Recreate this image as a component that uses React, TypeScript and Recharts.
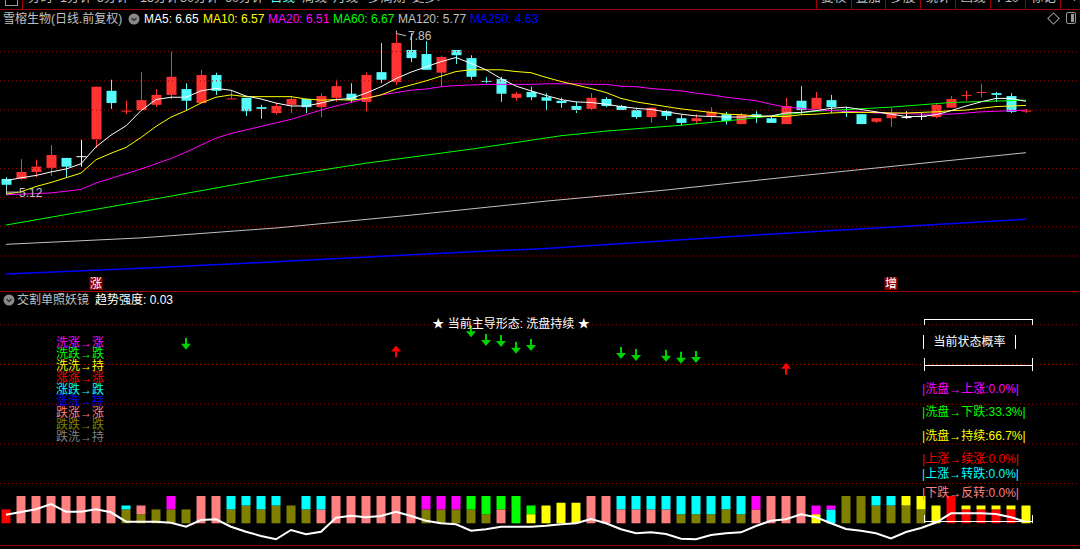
import React from "react";
import { ComposedChart, Bar, Line, Scatter, XAxis, YAxis, ReferenceLine, Cell } from "recharts";

// ---------- main panel: daily bars (前复权) ----------
const opens = [5.32, 5.32, 5.44, 5.51, 5.68, 5.71, 6.0, 6.83, 6.48, 6.5, 6.59, 6.76, 6.86, 6.62, 7.1, 6.69, 6.71, 6.55, 6.45, 6.59, 6.69, 6.55, 6.71, 6.78, 6.64, 7.15, 6.98, 7.53, 7.46, 7.14, 7.53, 7.39, 7.0, 7.03, 6.71, 6.81, 6.72, 6.66, 6.57, 6.52, 6.69, 6.57, 6.5, 6.38, 6.48, 6.36, 6.31, 6.4, 6.43, 6.26, 6.43, 6.36, 6.26, 6.66, 6.52, 6.67, 6.48, 6.43, 6.3, 6.36, 6.38, 6.4, 6.38, 6.54, 6.75, 6.8, 6.79, 6.74, 6.48];
const highs = [5.35, 5.66, 5.65, 5.9, 5.68, 5.99, 6.9, 7.02, 6.66, 7.15, 6.86, 7.5, 6.96, 7.19, 7.14, 6.83, 6.71, 6.59, 6.62, 6.74, 6.69, 6.79, 7.02, 6.96, 7.15, 7.65, 7.86, 7.82, 7.68, 7.43, 7.53, 7.44, 7.07, 7.07, 6.81, 6.9, 6.79, 6.71, 6.64, 6.79, 6.72, 6.59, 6.54, 6.55, 6.5, 6.42, 6.43, 6.55, 6.47, 6.45, 6.48, 6.38, 6.71, 6.91, 6.81, 6.76, 6.55, 6.43, 6.36, 6.54, 6.48, 6.45, 6.6, 6.74, 6.83, 6.95, 6.81, 6.79, 6.52];
const lows = [5.12, 5.3, 5.35, 5.37, 5.35, 5.53, 5.85, 6.52, 6.43, 6.5, 6.55, 6.69, 6.5, 6.62, 6.76, 6.69, 6.4, 6.35, 6.42, 6.45, 6.45, 6.38, 6.64, 6.62, 6.48, 6.96, 6.93, 7.32, 7.19, 6.9, 7.29, 7.02, 6.96, 6.64, 6.66, 6.67, 6.5, 6.54, 6.45, 6.5, 6.55, 6.5, 6.35, 6.28, 6.33, 6.23, 6.26, 6.31, 6.25, 6.26, 6.28, 6.28, 6.26, 6.43, 6.52, 6.45, 6.38, 6.26, 6.28, 6.21, 6.35, 6.33, 6.36, 6.54, 6.66, 6.72, 6.64, 6.45, 6.45];
const closes = [5.22, 5.44, 5.53, 5.73, 5.53, 5.71, 6.9, 6.62, 6.49, 6.67, 6.76, 7.07, 6.66, 7.1, 6.83, 6.7, 6.48, 6.52, 6.57, 6.69, 6.55, 6.74, 6.91, 6.67, 7.1, 7.02, 7.65, 7.39, 7.19, 7.41, 7.44, 7.07, 6.99, 6.78, 6.78, 6.72, 6.66, 6.62, 6.5, 6.71, 6.57, 6.5, 6.38, 6.54, 6.4, 6.28, 6.36, 6.47, 6.31, 6.42, 6.38, 6.28, 6.57, 6.5, 6.71, 6.55, 6.45, 6.26, 6.36, 6.45, 6.38, 6.4, 6.59, 6.69, 6.76, 6.81, 6.76, 6.47, 6.49];

const ma5 = [5.29, 5.34, 5.38, 5.44, 5.49, 5.58, 5.87, 6.07, 6.23, 6.49, 6.68, 6.72, 6.72, 6.83, 6.87, 6.84, 6.74, 6.69, 6.62, 6.57, 6.57, 6.62, 6.68, 6.7, 6.79, 6.9, 7.04, 7.15, 7.24, 7.33, 7.4, 7.3, 7.19, 7.04, 6.91, 6.83, 6.75, 6.68, 6.64, 6.63, 6.6, 6.56, 6.53, 6.51, 6.47, 6.43, 6.4, 6.39, 6.38, 6.38, 6.39, 6.4, 6.45, 6.46, 6.49, 6.53, 6.55, 6.51, 6.47, 6.43, 6.39, 6.39, 6.42, 6.49, 6.57, 6.64, 6.7, 6.7, 6.65];
const ma10 = [5.06, 5.1, 5.19, 5.26, 5.34, 5.42, 5.65, 5.76, 5.86, 6.03, 6.22, 6.38, 6.49, 6.62, 6.72, 6.76, 6.73, 6.73, 6.73, 6.73, 6.69, 6.67, 6.68, 6.67, 6.7, 6.76, 6.86, 6.93, 7.0, 7.08, 7.16, 7.19, 7.19, 7.19, 7.16, 7.14, 7.06, 6.99, 6.93, 6.87, 6.8, 6.7, 6.64, 6.6, 6.56, 6.52, 6.49, 6.46, 6.43, 6.42, 6.4, 6.39, 6.39, 6.42, 6.43, 6.45, 6.46, 6.46, 6.46, 6.45, 6.45, 6.46, 6.47, 6.49, 6.5, 6.53, 6.56, 6.57, 6.58];
const ma20 = [5.05, 5.06, 5.07, 5.08, 5.11, 5.14, 5.25, 5.33, 5.41, 5.49, 5.58, 5.67, 5.78, 5.9, 6.02, 6.1, 6.16, 6.22, 6.28, 6.34, 6.42, 6.5, 6.57, 6.63, 6.7, 6.76, 6.8, 6.84, 6.86, 6.9, 6.92, 6.93, 6.94, 6.94, 6.94, 6.94, 6.95, 6.95, 6.95, 6.94, 6.94, 6.91, 6.9, 6.87, 6.85, 6.83, 6.79, 6.76, 6.72, 6.69, 6.66, 6.6, 6.55, 6.53, 6.5, 6.49, 6.48, 6.47, 6.45, 6.45, 6.44, 6.43, 6.43, 6.43, 6.45, 6.47, 6.48, 6.49, 6.5];

const ma60Bars = [1, 11, 19, 25, 32, 38, 41, 46, 50, 55, 60, 64, 69];
const ma60Vals = [4.53, 4.98, 5.35, 5.59, 5.83, 6.06, 6.14, 6.24, 6.34, 6.48, 6.55, 6.63, 6.67];
const ma120Bars = [1, 10, 19, 28, 37, 45, 53, 61, 69];
const ma120Vals = [4.2, 4.31, 4.48, 4.7, 4.94, 5.13, 5.35, 5.56, 5.77];
const ma250Bars = [1, 10, 19, 28, 37, 45, 53, 61, 69];
const ma250Vals = [3.69, 3.79, 3.9, 4.02, 4.13, 4.26, 4.39, 4.51, 4.63];

const priceGrid = [4, 4.5, 5, 5.5, 6, 6.5, 7, 7.5];

const maNames = ["MA5", "MA10", "MA20", "MA60", "MA120", "MA250"];
const maLast = ["6.65", "6.57", "6.51", "6.67", "5.77", "4.63"];
const maColors = ["#ffffff", "#ffff00", "#ff00ff", "#00ff00", "#c0c0c0", "#0000ff"];

const flagBars = [7, 60];
const flagTexts = ["涨", "增"];

// ---------- lower panel: 交割单照妖镜 ----------
const strength = [2.17, 2.85, 3.53, 4.86, 2.92, 2.92, 3.53, 2.77, 0.4, 0.4, 0.4, 0.15, -0.86, 0.83, 1.01, -0.86, -2.12, -3.2, -4.03, -1.69, -2.77, -2.12, 1.41, 1.91, 1.51, 1.84, 2.92, 1.84, 0.65, 0, -0.25, -1.86, -1.51, -0.86, -0.86, -0.86, -0.6, -0.25, 0, 1.08, 0, -1.51, -2.52, -2.27, -2.7, -3.88, -4.03, -2.95, -2.52, -2.27, -0.68, 0.65, 1.01, 2.27, 1.51, 0, -1.44, -1.86, -2.52, -3.83, -2.19, -1.18, 0.2, 2.52, 2.52, 2.52, 2.34, 1.51, 0.4];

const baseTop = [3.5, 6.9, 6.9, 6.9, 6.9, 6.9, 6.9, 6.9, 3.5, 2.3, 3.5, 3.5, 3.5, 6.9, 6.9, 3.5, 4.5, 3.5, 4.5, 4.5, 3.5, 3.5, 6.9, 6.9, 6.9, 6.9, 6.9, 6.9, 3.5, 3.5, 3.5, 3.5, 2.3, 3.5, 6.9, 2.3, 4.5, 5.2, 5.2, 6.9, 6.9, 3.5, 3.5, 3.5, 3.5, 2.3, 2.3, 2.3, 3.5, 2.3, 3.5, 6.9, 6.9, 6.9, 2.3, 3.5, 6.9, 6.9, 4.5, 4.5, 4.5, 3.5, 4.5, 6.9, 3.5, 3.5, 3.5, 3.5, 4.5];
const baseKind = ["R", "P", "P", "P", "P", "P", "P", "P", "O", "O", "O", "O", "O", "P", "P", "O", "O", "O", "O", "O", "O", "P", "P", "P", "P", "P", "P", "P", "O", "O", "O", "O", "O", "P", "G", "Y", "Y", "Y", "Y", "P", "P", "P", "P", "P", "P", "O", "O", "O", "O", "O", "P", "P", "P", "P", "Y", "C", "O", "O", "O", "O", "O", "O", "Y", "R", "R", "R", "R", "R", "Y"];
const capTop = [0, 0, 0, 0, 0, 0, 0, 0, 4.5, 4.5, 0, 6.9, 0, 0, 0, 6.9, 6.9, 6.9, 6.9, 0, 6.9, 6.9, 0, 0, 0, 0, 0, 0, 6.9, 6.9, 6.9, 6.9, 6.9, 6.9, 0, 4.5, 0, 0, 0, 0, 0, 6.9, 6.9, 6.9, 6.9, 6.9, 6.9, 6.9, 6.9, 6.9, 6.9, 0, 0, 0, 4.5, 4.5, 0, 0, 6.9, 6.9, 6.9, 6.9, 0, 0, 4.5, 4.5, 4.5, 4.5, 0];
const capKind = ["-", "-", "-", "-", "-", "-", "-", "-", "C", "P", "-", "M", "-", "-", "-", "C", "C", "C", "C", "-", "C", "C", "-", "-", "-", "-", "-", "-", "M", "M", "M", "G", "G", "G", "-", "G", "-", "-", "-", "-", "-", "C", "C", "C", "C", "C", "C", "C", "C", "C", "M", "-", "-", "-", "M", "M", "-", "-", "C", "C", "Y", "Y", "-", "-", "Y", "Y", "Y", "Y", "-"];

const downBars = [13, 32, 33, 34, 35, 36, 42, 43, 45, 46, 47];
const downVals = [45.2, 48.4, 46.2, 45.9, 44.2, 44.9, 42.9, 42.4, 42.2, 41.7, 41.9];
const upBars = [27, 53];
const upVals = [43.3, 38.9];
const lowerGrid = [10, 20, 30, 40, 50];

const legendLabels = ["洗涨→涨", "洗跌→跌", "洗洗→持", "涨涨→涨", "涨跌→跌", "涨洗→持", "跌涨→涨", "跌跌→跌", "跌洗→持"];
const legendKinds = ["M", "G", "Y", "R", "C", "B", "P", "O", "D"];

const probLabels = ["洗盘→上涨", "洗盘→下跌", "洗盘→持续", "上涨→续涨", "上涨→转跌", "下跌→反转"];
const probValues = ["0.0%", "33.3%", "66.7%", "0.0%", "0.0%", "0.0%"];
const probKinds = ["M", "G", "Y", "R", "C", "P"];

const toolLeft = ["分时", "1分钟", "5分钟", "15分钟", "30分钟", "60分钟", "日线", "周线", "月线", "多周期", "更多>"];
const toolRight = ["复权", "叠加", "多股", "统计", "画线", "F10", "标记", "+自"];

const KIND: Record<string, string> = {
  R: "#ff0000", P: "#ff8080", O: "#808000", C: "#00ffff", M: "#ff00ff",
  G: "#00ff00", Y: "#ffff00", B: "#0000ff", D: "#808080",
};

// ---------- layout ----------
const FONT = '"Liberation Sans", "Noto Sans CJK SC", sans-serif';
const GRID = "#a00000";
const UP = "#ff3232";
const DOWN = "#54fcfc";
const X_DOMAIN: [number, number] = [1 - 6 / 15, 1 - 6 / 15 + 1080 / 15];
// price 7.5 sits at y=51.7, 58.37 px per yuan; plot spans y 24..290
const PRICE_DOMAIN: [number, number] = [7.5 - (290 - 51.7) / 58.37, 7.5 + (51.7 - 24) / 58.37];
// lower value 0 at y=523.3, 3.97 px per unit; plot spans y 305.3..545
const LOWER_DOMAIN: [number, number] = [(523.3 - 545) / 3.97, (523.3 - 305.3) / 3.97];

const pick = (bars: number[], vals: number[], idx: number) => {
  const k = bars.indexOf(idx);
  return k >= 0 ? vals[k] : null;
};

const mainData = opens.map((o, i) => ({
  idx: i + 1,
  open: o,
  high: highs[i],
  low: lows[i],
  close: closes[i],
  range: [lows[i], highs[i]],
  ma5: ma5[i],
  ma10: ma10[i],
  ma20: ma20[i],
  ma60: pick(ma60Bars, ma60Vals, i + 1),
  ma120: pick(ma120Bars, ma120Vals, i + 1),
  ma250: pick(ma250Bars, ma250Vals, i + 1),
}));

const lowerData = strength.map((s, i) => ({
  idx: i + 1,
  line: s,
  seg1: baseTop[i],
  seg2: capTop[i] ? capTop[i] - baseTop[i] : 0,
}));

const hiIdx = highs.indexOf(Math.max(...highs));
const loIdx = lows.indexOf(Math.min(...lows));
const extremes = [
  { idx: hiIdx + 1, v: highs[hiIdx], kind: "high" },
  { idx: loIdx + 1, v: lows[loIdx], kind: "low" },
];
const flags = flagBars.map((b, i) => ({ idx: b, v: 3.525, t: flagTexts[i] }));
const downArrows = downBars.map((b, i) => ({ idx: b, v: downVals[i] }));
const upArrows = upBars.map((b, i) => ({ idx: b, v: upVals[i] }));

function Candle(props: any) {
  const { x, y, width, height, payload } = props;
  if (x == null || y == null || !payload) return null;
  const { open, close, high, low } = payload;
  const top = Math.min(y, y + height);
  const k = Math.abs(height) / (high - low || 1);
  const py = (p: number) => top + (high - p) * k;
  const cx = Math.round(x + width / 2) + 0.5;
  const color = close > open ? UP : close < open ? DOWN : "#ffffff";
  const bTop = py(Math.max(open, close));
  const bH = Math.max(1, Math.abs(open - close) * k);
  return (
    <g>
      <line x1={cx} x2={cx} y1={py(high)} y2={py(low)} stroke={color} strokeWidth={1} />
      <rect x={cx - 5} y={bTop} width={10} height={bH} fill={color} />
    </g>
  );
}

function Extreme(props: any) {
  const { cx, cy, payload } = props;
  if (cx == null || cy == null) return null;
  if (payload.kind === "high") {
    return (
      <g>
        <polyline points={`${cx + 0.5},${cy} ${cx + 0.5},${cy + 3} ${cx + 10},${cy + 5}`} fill="none" stroke="#c0c0c0" strokeWidth={1} />
        <text x={cx + 12} y={cy + 5} dominantBaseline="central" fill="#c0c0c0" fontSize={12} fontFamily={FONT}>
          {payload.v.toFixed(2)}
        </text>
      </g>
    );
  }
  return (
    <g>
      <line x1={cx + 0.5} x2={cx + 0.5} y1={cy - 3} y2={cy + 4} stroke="#c0c0c0" />
      <line x1={cx} x2={cx + 12} y1={cy + 1.5} y2={cy + 1.5} stroke="#c0c0c0" />
      <text x={cx + 13} y={cy + 2.5} dominantBaseline="central" fill="#c0c0c0" fontSize={12} fontFamily={FONT}>
        {payload.v.toFixed(2)}
      </text>
    </g>
  );
}

function Flag(props: any) {
  const { cx, cy, payload } = props;
  if (cx == null || cy == null) return null;
  return (
    <g>
      <rect x={cx - 6.5} y={cy - 6.5} width={13} height={13} fill="#8b0000" />
      <text x={cx} y={cy + 0.5} textAnchor="middle" dominantBaseline="central" fill="#ffffff" fontSize={12} fontFamily={FONT}>
        {payload.t}
      </text>
    </g>
  );
}

function DownArrow(props: any) {
  const { cx, cy } = props;
  if (cx == null || cy == null) return null;
  return (
    <g fill="#00d000">
      <rect x={cx - 1} y={cy - 6} width={2} height={7} />
      <polygon points={`${cx - 5},${cy} ${cx + 5},${cy} ${cx},${cy + 6}`} />
    </g>
  );
}

function UpArrow(props: any) {
  const { cx, cy } = props;
  if (cx == null || cy == null) return null;
  return (
    <g fill="#ff0000">
      <rect x={cx - 1} y={cy - 1} width={2} height={7} />
      <polygon points={`${cx - 5},${cy} ${cx + 5},${cy} ${cx},${cy - 6}`} />
    </g>
  );
}

function Txt({ x, y, color = "#c0c0c0", size = 12, center = false, children }: any) {
  return (
    <div
      style={{
        position: "absolute", left: x, top: y - 8, height: 16, lineHeight: "16px",
        fontSize: size, color, whiteSpace: "nowrap",
        transform: center ? "translateX(-50%)" : undefined,
      }}
    >
      {children}
    </div>
  );
}

const HL = ({ x1, x2, y, c = "#ffffff" }: any) => (
  <div style={{ position: "absolute", left: x1, top: y - 0.5, width: x2 - x1, height: 1, background: c }} />
);
const VL = ({ x, y1, y2, c = "#ffffff" }: any) => (
  <div style={{ position: "absolute", left: x - 0.5, top: y1, width: 1, height: y2 - y1, background: c }} />
);

const Knob = ({ x, y }: any) => (
  <svg style={{ position: "absolute", left: x - 6, top: y - 6 }} width={12} height={12}>
    <circle cx={6} cy={6} r={5.5} fill="#8a8a8a" />
    <polyline points="3.5,5 6,7.5 8.5,5" fill="none" stroke="#333" strokeWidth={1.5} />
  </svg>
);

const sepX = [816.6, 851, 885.4, 920.6, 955.7, 990.5, 1025.6, 1060.7];
const toolLeftX = [28, 60, 97, 140, 180, 225, 270, 302, 333, 368, 412];
const maX = [144, 203, 268, 333, 398, 470];
const probY = [389, 411.7, 435.7, 459, 474.3, 493.3];

export default function App() {
  return (
    <div
      style={{
        position: "absolute", left: 0, top: 0, width: 1080, height: 549,
        background: "#000", overflow: "hidden", fontFamily: FONT,
      }}
    >
      {/* toolbar, cut by the top edge */}
      {toolLeft.map((t, i) => (
        <Txt key={t} x={toolLeftX[i]} y={-2} size={12.5} color={t === "日线" ? "#54fcfc" : "#c0c0c0"}>
          {t}
        </Txt>
      ))}
      {toolRight.map((t, i) => (
        <Txt key={t} x={sepX[i] + (i < 7 ? (sepX[i + 1] - sepX[i]) / 2 : 10)} y={-2} size={12.5} center={i < 7}>
          {t}
        </Txt>
      ))}
      <div style={{ position: "absolute", left: 5, top: -4, width: 11, height: 8, border: "1px solid #9a9a9a" }} />
      <VL x={22.5} y1={0} y2={9} c={GRID} />
      {sepX.map((x) => (
        <VL key={x} x={x} y1={0} y2={9} c={GRID} />
      ))}
      <HL x1={0} x2={1080} y={9.5} c={GRID} />

      {/* header */}
      <Txt x={3} y={18.5}>雪榕生物(日线.前复权)</Txt>
      <Knob x={133.5} y={18.5} />
      {maNames.map((n, i) => (
        <Txt key={n} x={maX[i]} y={18.5} color={maColors[i]}>
          {n}: {maLast[i]}
        </Txt>
      ))}
      <div
        style={{
          position: "absolute", left: 1049, top: 14, width: 7, height: 7,
          border: "1px solid #9a9a9a", transform: "rotate(45deg)",
        }}
      />
      <div
        style={{
          position: "absolute", left: 1066, top: 12, width: 10, height: 12,
          border: "1px solid #9a9a9a", borderRadius: 2, boxSizing: "border-box",
        }}
      >
        <div style={{ position: "absolute", right: 1, top: 1, width: 3, height: 8, background: "#9a9a9a" }} />
      </div>

      {/* price panel */}
      <div style={{ position: "absolute", left: 0, top: 0 }}>
        <ComposedChart width={1080} height={291} data={mainData} margin={{ top: 24, right: 0, bottom: 1, left: 0 }}>
          <XAxis type="number" dataKey="idx" domain={X_DOMAIN} hide allowDataOverflow />
          <YAxis type="number" domain={PRICE_DOMAIN} hide allowDataOverflow />
          {priceGrid.map((p) => (
            <ReferenceLine key={p} y={p} stroke={GRID} strokeDasharray="1 3" />
          ))}
          <Bar dataKey="range" barSize={10} shape={(p: any) => <Candle {...p} />} isAnimationActive={false} />
          <Line dataKey="ma250" stroke="#0000ff" strokeWidth={1.5} dot={false} connectNulls isAnimationActive={false} />
          <Line dataKey="ma120" stroke="#c0c0c0" strokeWidth={1} dot={false} connectNulls isAnimationActive={false} />
          <Line dataKey="ma60" stroke="#00ff00" strokeWidth={1} dot={false} connectNulls isAnimationActive={false} />
          <Line dataKey="ma20" stroke="#ff00ff" strokeWidth={1} dot={false} isAnimationActive={false} />
          <Line dataKey="ma10" stroke="#ffff00" strokeWidth={1} dot={false} isAnimationActive={false} />
          <Line dataKey="ma5" stroke="#ffffff" strokeWidth={1} dot={false} isAnimationActive={false} />
          <Scatter data={extremes} dataKey="v" shape={(p: any) => <Extreme {...p} />} isAnimationActive={false} />
          <Scatter data={flags} dataKey="v" shape={(p: any) => <Flag {...p} />} isAnimationActive={false} />
        </ComposedChart>
      </div>

      <HL x1={0} x2={1080} y={291.5} c={GRID} />

      {/* indicator panel */}
      <div style={{ position: "absolute", left: 0, top: 291 }}>
        <ComposedChart width={1080} height={254} data={lowerData} margin={{ top: 14.3, right: 0, bottom: 0, left: 0 }}>
          <XAxis type="number" dataKey="idx" domain={X_DOMAIN} hide allowDataOverflow />
          <YAxis type="number" domain={LOWER_DOMAIN} hide allowDataOverflow />
          {lowerGrid.map((v) => (
            <ReferenceLine key={v} y={v} stroke={GRID} strokeDasharray="1 3" />
          ))}
          <Bar dataKey="seg1" stackId="s" barSize={9} isAnimationActive={false}>
            {lowerData.map((d, i) => (
              <Cell key={d.idx} fill={KIND[baseKind[i]]} />
            ))}
          </Bar>
          <Bar dataKey="seg2" stackId="s" barSize={9} isAnimationActive={false}>
            {lowerData.map((d, i) => (
              <Cell key={d.idx} fill={KIND[capKind[i]] || "transparent"} />
            ))}
          </Bar>
          <Line dataKey="line" stroke="#ffffff" strokeWidth={2} dot={false} isAnimationActive={false} />
          <Scatter data={downArrows} dataKey="v" shape={(p: any) => <DownArrow {...p} />} isAnimationActive={false} />
          <Scatter data={upArrows} dataKey="v" shape={(p: any) => <UpArrow {...p} />} isAnimationActive={false} />
        </ComposedChart>
      </div>

      <Knob x={8.5} y={300} />
      <Txt x={17} y={300}>交割单照妖镜</Txt>
      <Txt x={95} y={300} color="#ffffff">趋势强度: 0.03</Txt>

      <Txt x={511} y={323.5} color="#ffffff" center>
        ★ 当前主导形态: 洗盘持续 ★
      </Txt>

      {legendLabels.map((t, i) => (
        <Txt key={t} x={56} y={342.5 + 11.75 * i} color={KIND[legendKinds[i]]}>
          {t}
        </Txt>
      ))}

      {/* probability box */}
      <HL x1={924} x2={1033} y={319.5} />
      <VL x={924.5} y1={319.5} y2={325} />
      <VL x={1032.5} y1={319.5} y2={325} />
      <VL x={923.7} y1={335} y2={349} />
      <VL x={1015.7} y1={335} y2={349} />
      <Txt x={969.5} y={342} color="#ffffff" center>
        当前状态概率
      </Txt>
      <HL x1={924} x2={1033} y={365.7} />
      <VL x={924.5} y1={358} y2={371} />
      <VL x={1032.5} y1={358} y2={371} />
      {probLabels.map((t, i) => (
        <Txt key={t} x={922} y={probY[i]} color={KIND[probKinds[i]]}>
          |{t}:{probValues[i]}|
        </Txt>
      ))}
      <VL x={924.5} y1={515} y2={523} />
      <VL x={1032.5} y1={515} y2={523} />
      <HL x1={924} x2={1033} y={521.7} />

      <HL x1={0} x2={1080} y={545.5} c={GRID} />
    </div>
  );
}
